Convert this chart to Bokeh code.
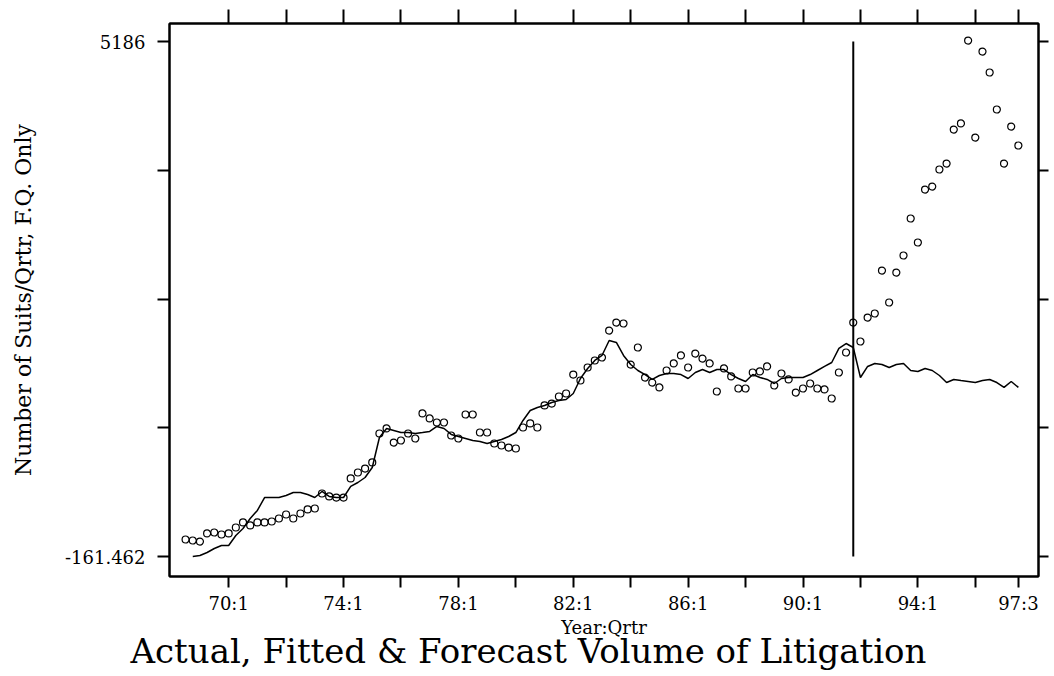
import numpy as np
from bokeh.plotting import figure
from bokeh.models import Range1d, LinearAxis, FixedTicker, Title, ColumnDataSource
from bokeh.embed import file_html
from bokeh.resources import INLINE

# ---------------- data ----------------
start_year = 68          # first quarter is 68:3
start_quarter = 3
n_quarters = 117         # 68:3 .. 97:3

actual = [15, 5, -6, 78, 88, 67, 78, 140, 192, 161,
          192, 192, 202, 233, 275, 233, 285, 327, 337, 493,
          462, 451, 451, 649, 711, 752, 815, 1116, 1168, 1022,
          1043, 1116, 1064, 1324, 1272, 1230, 1230, 1095, 1064, 1313,
          1313, 1126, 1126, 1012, 991, 970, 960, 1178, 1220, 1178,
          1407, 1427, 1500, 1531, 1728, 1666, 1801, 1874, 1905, 2185,
          2268, 2258, 1832, 2009, 1697, 1645, 1594, 1770, 1843, 1926,
          1801, 1946, 1894, 1843, 1552, 1791, 1708, 1583, 1583, 1749,
          1760, 1812, 1614, 1739, 1677, 1541, 1583, 1635, 1583, 1573,
          1479, 1749, 1957, 2268, 2071, 2320, 2362, 2808, 2476, 2787,
          2964, 3348, 3099, 3649, 3680, 3857, 3919, 4272, 4335, 5196,
          4189, 5082, 4864, 4480, 3919, 4303, 4106]

fitted = [None, -161, -151, -120, -78, -47, -47, 57, 129, 233,
          317, 451, 451, 451, 472, 503, 503, 482, 451, 514,
          462, 451, 451, 566, 607, 659, 763, 1074, 1168, 1147,
          1126, 1126, 1116, 1126, 1137, 1189, 1168, 1106, 1085, 1064,
          1043, 1033, 1012, 1033, 1054, 1085, 1126, 1251, 1355, 1386,
          1407, 1438, 1458, 1469, 1531, 1687, 1791, 1874, 1926, 2081,
          2061, 1926, 1832, 1770, 1728, 1677, 1718, 1739, 1739, 1728,
          1687, 1749, 1780, 1749, 1780, 1780, 1728, 1687, 1656, 1728,
          1697, 1677, 1635, 1687, 1697, 1697, 1697, 1728, 1770, 1812,
          1853, 1999, 2050, 2009, 1697, 1812, 1843, 1832, 1801, 1832,
          1843, 1770, 1760, 1791, 1770, 1718, 1645, 1677, 1666, 1656,
          1645, 1666, 1677, 1645, 1594, 1656, 1594]

forecast_origin = [91.75]          # 91:4, end of the fit period
y_label_min = -161.462
y_label_max = 5186

x_tick_values = [70, 72, 74, 76, 78, 80, 82, 84, 86, 88, 90, 92, 94, 96, 97.5]
x_tick_labels = ["70:1", "", "74:1", "", "78:1", "", "82:1", "", "86:1", "",
                 "90:1", "", "94:1", "", "97:3"]

title_text = "Actual, Fitted & Forecast Volume of Litigation"
x_title = "Year:Qrtr"
y_title = "Number of Suits/Qrtr, F.Q. Only"

# ---------------- build ----------------
periods = start_year + (start_quarter - 1) / 4 + 0.25 * np.arange(n_quarters)
fitted_arr = np.array([np.nan if v is None else v for v in fitted], dtype=float)
src = ColumnDataSource(dict(x=periods, actual=actual, fitted=fitted_arr))

y_ticks = list(np.linspace(y_label_min, y_label_max, 5))
y_overrides = {t: "" for t in y_ticks}
y_overrides[y_ticks[0]] = "-161.462"
y_overrides[y_ticks[-1]] = "5186"

p = figure(width=1054, height=676,
           x_range=Range1d(67.94, 98.2), y_range=Range1d(-369, 5373),
           output_backend="svg", toolbar_location=None,
           x_axis_location=None, y_axis_location=None,
           min_border_left=169, min_border_right=16,
           min_border_top=23, min_border_bottom=100)
p.grid.visible = False
p.outline_line_color = "black"
p.outline_line_width = 2
p.background_fill_color = "white"
p.border_fill_color = "white"

FONT = "DejaVu Serif"

def style_axis(ax, tick_out):
    ax.axis_line_color = "black"
    ax.axis_line_width = 2
    ax.major_tick_line_color = "black"
    ax.major_tick_line_width = 2
    ax.major_tick_out = tick_out
    ax.major_tick_in = 0
    ax.minor_tick_line_color = None
    ax.major_label_text_font = FONT
    ax.major_label_text_font_size = "18px"
    ax.major_label_text_color = "black"
    ax.axis_label_text_font = FONT
    ax.axis_label_text_font_style = "normal"
    ax.axis_label_text_color = "black"

xt = FixedTicker(ticks=x_tick_values)
yt = FixedTicker(ticks=y_ticks)

xb = LinearAxis(ticker=xt, major_label_overrides=dict(zip(x_tick_values, x_tick_labels)))
style_axis(xb, 11)
xb.major_label_standoff = 5
xb.axis_label = x_title
xb.axis_label_text_font_size = "18px"
xb.axis_label_standoff = 0
p.add_layout(xb, "below")

xa = LinearAxis(ticker=xt, major_label_overrides={t: "" for t in x_tick_values})
style_axis(xa, 14)
xa.major_label_text_font_size = "0px"
p.add_layout(xa, "above")

yl = LinearAxis(ticker=yt, major_label_overrides=y_overrides)
style_axis(yl, 12)
yl.major_label_standoff = 12
yl.axis_label = y_title
yl.axis_label_text_font_size = "22px"
yl.axis_label_standoff = 26
p.add_layout(yl, "left")

yr = LinearAxis(ticker=yt, major_label_overrides={t: "" for t in y_ticks})
style_axis(yr, 10)
yr.major_label_text_font_size = "0px"
p.add_layout(yr, "right")

p.line("x", "fitted", source=src, line_color="black", line_width=1.5)
p.scatter("x", "actual", source=src, marker="circle", size=7,
          fill_color=None, line_color="black", line_width=1.2)

p.segment(x0=forecast_origin, y0=[y_label_min], x1=forecast_origin, y1=[y_label_max],
          line_color="black", line_width=2)

p.add_layout(Title(text=title_text, align="left", text_font=FONT,
                   text_font_size="34px", text_font_style="normal",
                   text_color="black", offset=-39, standoff=-23), "below")

open("out.html", "w").write(file_html(p, INLINE))
